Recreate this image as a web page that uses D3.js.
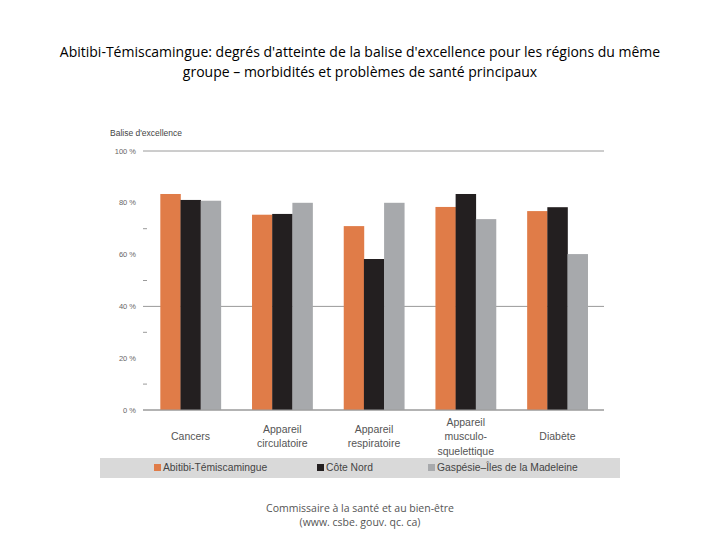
<!DOCTYPE html>
<html><head><meta charset="utf-8">
<script src="https://cdn.jsdelivr.net/npm/d3@7"></script>
<style>body{margin:0;background:#fff;}svg{display:block;}</style>
</head><body>
<svg id="c" width="720" height="540"></svg>
<script>
const categories = [["Cancers"],["Appareil","circulatoire"],["Appareil","respiratoire"],["Appareil","musculo-","squelettique"],["Diabète"]];
const seriesNames = ["Abitibi-Témiscamingue","Côte Nord","Gaspésie–Îles de la Madeleine"];
const abitibi = [83.4, 75.4, 71.0, 78.4, 76.8];
const coteNord = [81.1, 75.7, 58.3, 83.4, 78.3];
const gaspesie = [80.8, 80.0, 80.0, 73.7, 60.2];
const seriesValues = [abitibi, coteNord, gaspesie];
const colors = ["#e07c48", "#231f20", "#a7a9ac"];
const tickValues = [0,20,40,60,80,100];
const minorTicks = [10,30,50,70];
const gridValues = [0,40,100];

const svg = d3.select("#c");
const x0 = d3.scaleBand().domain(d3.range(categories.length)).range([145,603]).paddingInner(0.34).paddingOuter(0.167);
const x1 = d3.scaleBand().domain(d3.range(seriesNames.length)).range([0, x0.bandwidth()]);
const y = d3.scaleLinear().domain([0,100]).range([410,151]);

// title
const title = svg.append("text").attr("text-anchor","middle").attr("font-family","Open Sans, sans-serif").attr("font-size",14).attr("fill","#000");
title.append("tspan").attr("x",360).attr("y",57).text("Abitibi-Témiscamingue: degrés d'atteinte de la balise d'excellence pour les régions du même");
title.append("tspan").attr("x",360).attr("y",77).text("groupe – morbidités et problèmes de santé principaux");

// gridlines
svg.append("g").selectAll("line").data(gridValues).join("line")
  .attr("x1",143).attr("x2",604).attr("y1",d=>y(d)).attr("y2",d=>y(d))
  .attr("stroke","#9a9a9a").attr("stroke-width",1);
svg.append("g").selectAll("line").data(minorTicks).join("line")
  .attr("x1",143).attr("x2",147).attr("y1",d=>y(d)).attr("y2",d=>y(d))
  .attr("stroke","#9a9a9a").attr("stroke-width",1);

// y tick labels
svg.append("g").selectAll("text").data(tickValues).join("text")
  .attr("x",136).attr("y",d=>y(d)).attr("dy","0.35em").attr("text-anchor","end")
  .attr("font-family","Liberation Sans, sans-serif").attr("font-size",7.5).attr("fill","#666")
  .text(d=>d+" %");
svg.append("text").attr("x",110).attr("y",136).attr("font-family","Liberation Sans, sans-serif")
  .attr("font-size",8.5).attr("fill","#444").text("Balise d'excellence");

// bars
const g = svg.append("g");
categories.forEach((c,i)=>{
  seriesValues.forEach((vals,s)=>{
    g.append("rect").attr("x",x0(i)+x1(s)).attr("width",x1.bandwidth()+0.3)
      .attr("y",y(vals[i])).attr("height",y(0)-y(vals[i])).attr("fill",colors[s]);
  });
});
// 0 line on top
svg.append("line").attr("x1",143).attr("x2",604).attr("y1",y(0)).attr("y2",y(0)).attr("stroke","#9a9a9a");

// category labels
categories.forEach((lines,i)=>{
  const cx = x0(i)+x0.bandwidth()/2;
  const n = lines.length;
  const t = svg.append("text").attr("text-anchor","middle").attr("font-family","Liberation Sans, sans-serif")
    .attr("font-size",10.5).attr("fill","#555");
  lines.forEach((l,k)=>{
    t.append("tspan").attr("x",cx).attr("y",436.5 + (k-(n-1)/2)*14.5).attr("dy","0.35em").text(l);
  });
});

// legend
svg.append("rect").attr("x",100).attr("y",458).attr("width",520).attr("height",20).attr("fill","#d9d9d9");
const legX = [154, 317, 428];
seriesNames.forEach((n,s)=>{
  svg.append("rect").attr("x",legX[s]).attr("y",464).attr("width",7).attr("height",7).attr("fill",colors[s]);
  svg.append("text").attr("x",legX[s]+9).attr("y",467.5).attr("dy","0.35em")
    .attr("font-family","Liberation Sans, sans-serif").attr("font-size",10.3).attr("fill","#444").text(n);
});

// footer
const f = svg.append("text").attr("text-anchor","middle").attr("font-family","Open Sans, sans-serif").attr("font-size",10.5).attr("fill","#555");
f.append("tspan").attr("x",360).attr("y",512).text("Commissaire à la santé et au bien-être");
f.append("tspan").attr("x",360).attr("y",526).text("(www. csbe. gouv. qc. ca)");
</script>
</body></html>
